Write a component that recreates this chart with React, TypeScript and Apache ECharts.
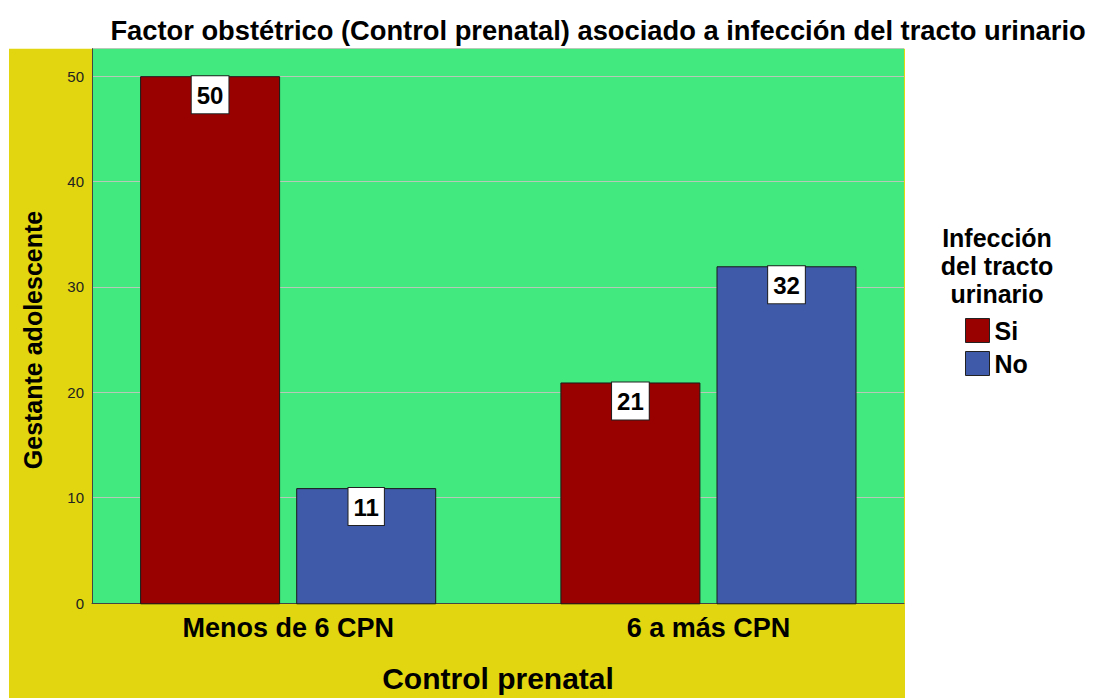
import React, { useEffect, useRef } from "react";
import * as echarts from "echarts";

const categories = ["Menos de 6 CPN", "6 a más CPN"];
const siValues = [50, 21];
const noValues = [11, 32];
const seriesNames = ["Si", "No"];
const yTicks = [0, 10, 20, 30, 40, 50];

const FONT = "'Liberation Sans', Arial, sans-serif";

export default function App() {
  const ref = useRef<HTMLDivElement>(null);
  useEffect(() => {
    if (!ref.current) return;
    const chart = echarts.init(ref.current, undefined, { renderer: "svg" });
    const top = 48.7;
    const bottom = 698 - 604.3;
    const yMax = 52.6;
    const label = {
      show: true,
      position: "insideTop",
      distance: 0,
      backgroundColor: "#ffffff",
      borderColor: "#222222",
      borderWidth: 1,
      padding: [7, 5, 6, 5],
      color: "#000000",
      fontFamily: FONT,
      fontWeight: "bold",
      fontSize: 24,
      lineHeight: 24,
    };
    chart.setOption({
      animation: false,
      backgroundColor: "#ffffff",
      textStyle: { fontFamily: FONT },
      graphic: [
        {
          type: "rect",
          z: -10,
          shape: { x: 9, y: top, width: 896, height: 698 - top },
          style: { fill: "#E1D60F" },
        },
        {
          type: "text",
          x: 33,
          y: 340,
          rotation: Math.PI / 2,
          style: {
            text: "Gestante adolescente",
            fontFamily: FONT,
            fontWeight: "bold",
            fontSize: 25,
            fill: "#000000",
            align: "center",
            verticalAlign: "middle",
          },
        },
        {
          type: "text",
          x: 997,
          y: 266,
          style: {
            text: "Infección\ndel tracto\nurinario",
            fontFamily: FONT,
            fontWeight: "bold",
            fontSize: 25,
            lineHeight: 28,
            fill: "#000000",
            align: "center",
            verticalAlign: "middle",
          },
        },
      ],
      title: {
        text: "Factor obstétrico (Control prenatal) asociado a infección del tracto urinario",
        left: 593,
        top: 12,
        textAlign: "center",
        textStyle: { fontFamily: FONT, fontWeight: "bold", fontSize: 27.3, color: "#000000" },
      },
      legend: {
        orient: "vertical",
        left: 965,
        top: 318,
        padding: 0,
        itemWidth: 24,
        itemHeight: 24,
        itemGap: 8,
        icon: "rect",
        data: seriesNames,
        textStyle: { fontFamily: FONT, fontWeight: "bold", fontSize: 25, color: "#000000" },
        itemStyle: { borderColor: "#222222", borderWidth: 1 },
      },
      grid: [
        {
          left: 92,
          right: 1098 - 904,
          top,
          bottom,
          show: true,
          backgroundColor: "#42E97E",
          borderWidth: 0,
        },
        {
          left: 78,
          right: 1098 - 918.6,
          top,
          bottom,
          show: false,
        },
      ],
      xAxis: [
        {
          type: "category",
          gridIndex: 0,
          data: categories,
          axisLine: { show: true, lineStyle: { color: "#444444", width: 1 } },
          axisTick: { show: false },
          axisLabel: { show: false },
          name: "Control prenatal",
          nameLocation: "middle",
          nameGap: 60,
          nameTextStyle: { fontFamily: FONT, fontWeight: "bold", fontSize: 30, color: "#000000" },
        },
        {
          type: "category",
          gridIndex: 1,
          data: categories,
          axisLine: { show: false },
          axisTick: { show: false },
          axisLabel: {
            margin: 10,
            fontFamily: FONT,
            fontWeight: "bold",
            fontSize: 27,
            color: "#000000",
          },
        },
      ],
      yAxis: [
        {
          type: "value",
          gridIndex: 0,
          min: 0,
          max: yMax,
          interval: 10,
          axisLine: { show: true, lineStyle: { color: "#444444", width: 1 } },
          axisTick: { show: false },
          axisLabel: {
            showMaxLabel: false,
            margin: 8,
            fontFamily: FONT,
            fontSize: 15,
            color: "#222222",
            formatter: (v: number) => (yTicks.includes(v) ? String(v) : ""),
          },
          splitLine: { show: true, lineStyle: { color: "#B8C8B8", width: 1 } },
        },
        {
          type: "value",
          gridIndex: 1,
          min: 0,
          max: yMax,
          show: false,
          splitLine: { show: false },
        },
      ],
      series: [
        {
          name: seriesNames[0],
          type: "bar",
          xAxisIndex: 1,
          yAxisIndex: 1,
          data: siValues,
          barWidth: 140,
          barGap: "11.5%",
          itemStyle: { color: "#990000", borderColor: "#1a1a1a", borderWidth: 1 },
          label,
        },
        {
          name: seriesNames[1],
          type: "bar",
          xAxisIndex: 1,
          yAxisIndex: 1,
          data: noValues,
          barWidth: 140,
          barGap: "11.5%",
          itemStyle: { color: "#3F5AA8", borderColor: "#1a1a1a", borderWidth: 1 },
          label,
        },
      ],
    });
    return () => chart.dispose();
  }, []);
  return (
    <div
      ref={ref}
      style={{ position: "fixed", left: 0, top: 0, width: 1098, height: 698 }}
    />
  );
}
